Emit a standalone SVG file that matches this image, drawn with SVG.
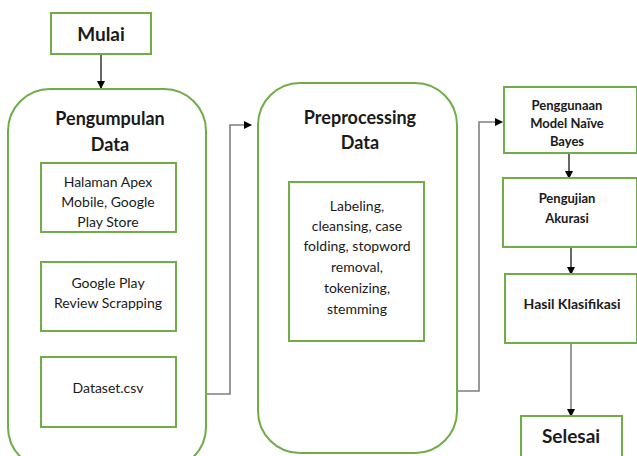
<svg xmlns="http://www.w3.org/2000/svg" width="637" height="456" viewBox="0 0 637 456">
<style>
.box{fill:#fff;stroke:#70ad47;stroke-width:2}
.t{font-family:Lato,"Open Sans",sans-serif;fill:#1a1a1a;text-anchor:middle;dominant-baseline:central}
.b{font-weight:bold}
.s14{font-size:14px}
.s13{font-size:13px}
.s18{font-size:18px}
.a{stroke:#000;stroke-width:1.2;fill:none}
.g{stroke:#7f7f7f;stroke-width:1.6;fill:none}
</style>
<defs>
<marker id="ah" markerWidth="8" markerHeight="8" refX="7" refY="4" orient="auto" markerUnits="userSpaceOnUse"><path d="M0,0 L8,4 L0,8 z" fill="#000"/></marker>
</defs>
<rect width="637" height="456" fill="#fff"/>
<g id="connectors">
<line class="a" x1="101" y1="55" x2="101" y2="88" marker-end="url(#ah)"/>
<line class="a" x1="107" y1="233" x2="107" y2="261" marker-end="url(#ah)"/>
<line class="a" x1="106" y1="331" x2="106" y2="357" marker-end="url(#ah)"/>
<polyline class="g" points="206,394 230,394 230,125 251,125" marker-end="url(#ah)"/>
<polyline class="g" points="457,391 479,391 479,122 502,122" marker-end="url(#ah)"/>
<line class="a" x1="569" y1="153" x2="569" y2="178" marker-end="url(#ah)"/>
<line class="a" x1="571" y1="247" x2="571" y2="274" marker-end="url(#ah)"/>
<line class="g" x1="571" y1="343" x2="571" y2="416" marker-end="url(#ah)"/>
</g>
<g id="mulai">
<rect class="box" x="51" y="13" width="100" height="41"/>
<text class="t b" x="101" y="33" font-size="19">Mulai</text>
</g>
<g id="pengumpulan">
<rect class="box" x="8" y="89" width="198" height="380" rx="42"/>
<text class="t b s18" x="110" y="118">Pengumpulan</text>
<text class="t b s18" x="110" y="144">Data</text>
</g>
<g id="halaman">
<rect class="box" x="41" y="163" width="135" height="69"/>
<text class="t s14" x="108" y="181">Halaman Apex</text>
<text class="t s14" x="108" y="201">Mobile, Google</text>
<text class="t s14" x="108" y="221">Play Store</text>
</g>
<g id="scrapping">
<rect class="box" x="41" y="262" width="135" height="69"/>
<text class="t s14" x="108" y="282">Google Play</text>
<text class="t s14" x="108" y="302">Review Scrapping</text>
</g>
<g id="dataset">
<rect class="box" x="41" y="357" width="135" height="70"/>
<text class="t s14" x="108" y="387">Dataset.csv</text>
</g>
<g id="preprocessing">
<rect class="box" x="258" y="83" width="199" height="370" rx="42"/>
<text class="t b s18" x="360" y="117">Preprocessing</text>
<text class="t b s18" x="360" y="142">Data</text>
</g>
<g id="labeling">
<rect class="box" x="289" y="182" width="135" height="159"/>
<text class="t s14" x="357" y="205">Labeling,</text>
<text class="t s14" x="357" y="225">cleansing, case</text>
<text class="t s14" x="357" y="245">folding, stopword</text>
<text class="t s14" x="357" y="266">removal,</text>
<text class="t s14" x="357" y="287">tokenizing,</text>
<text class="t s14" x="357" y="308">stemming</text>
</g>
<g id="penggunaan">
<rect class="box" x="504" y="87" width="133" height="66"/>
<text class="t b s13" x="567" y="105">Penggunaan</text>
<text class="t b s13" x="567" y="123">Model Naïve</text>
<text class="t b s13" x="567" y="141">Bayes</text>
</g>
<g id="pengujian">
<rect class="box" x="503" y="178" width="134" height="69"/>
<text class="t b s13" x="567" y="198">Pengujian</text>
<text class="t b s13" x="567" y="218">Akurasi</text>
</g>
<g id="hasil">
<rect class="box" x="505" y="274" width="132" height="69"/>
<text class="t b s14" x="572" y="303">Hasil Klasifikasi</text>
</g>
<g id="selesai">
<rect class="box" x="521" y="416" width="101" height="50"/>
<text class="t b" x="571" y="435" font-size="19">Selesai</text>
</g>
</svg>
